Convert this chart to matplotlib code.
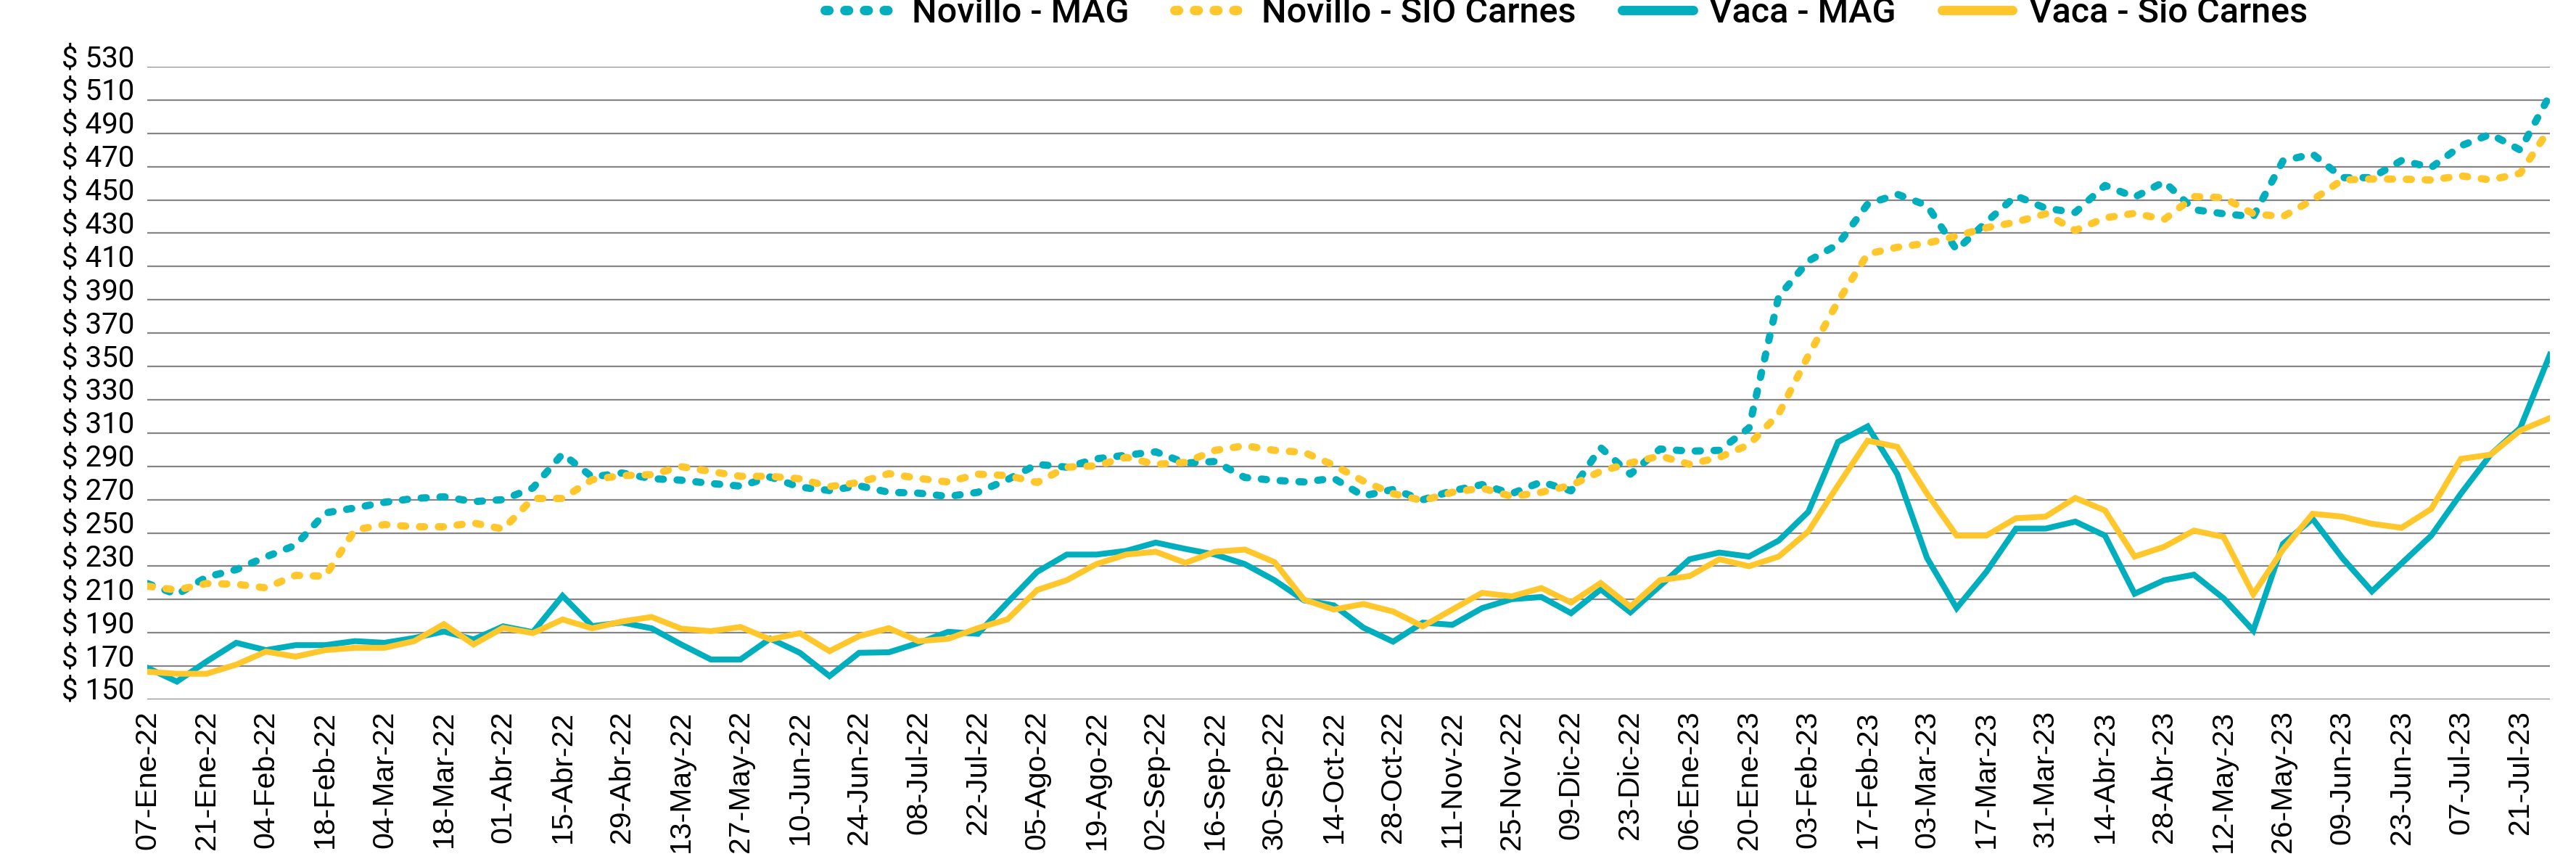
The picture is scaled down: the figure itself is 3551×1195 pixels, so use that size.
import matplotlib
matplotlib.use("Agg")
import matplotlib.pyplot as plt
from matplotlib.lines import Line2D
import numpy as np

# weekly prices, 07-Ene-22 .. 28-Jul-23
novillo_mag = [
    219.6, 213.0, 223.5, 228.0, 235.6, 242.6, 262.0, 265.0, 268.4, 270.7,
    271.7, 268.8, 270.0, 277.0, 297.5, 283.6, 286.0, 282.6, 281.7, 279.7,
    278.1, 283.6, 277.5, 275.5, 278.3, 274.4, 273.9, 271.9, 274.4, 282.0,
    291.2, 289.5, 294.5, 296.7, 298.7, 292.0, 292.9, 283.3, 281.6, 280.6,
    282.8, 272.2, 276.1, 269.9, 275.3, 279.0, 273.6, 280.6, 275.3, 301.2,
    285.3, 300.4, 299.1, 299.6, 313.0, 392.0, 413.3, 423.3, 447.5, 453.4,
    446.7, 420.0, 436.7, 452.5, 445.0, 442.5, 458.7, 451.7, 460.9, 444.2,
    441.7, 440.0, 473.4, 477.6, 463.4, 463.4, 473.7, 469.5, 482.5, 489.5,
    480.0, 513.0,
]
novillo_sio = [
    218.0, 215.7, 219.6, 219.2, 217.0, 224.5, 224.0, 251.8, 255.0, 253.7,
    253.7, 256.0, 252.3, 270.7, 270.7, 282.0, 284.4, 285.0, 289.8, 286.9,
    284.0, 284.0, 282.5, 277.8, 280.3, 285.6, 282.8, 280.6, 285.3, 284.5,
    280.3, 289.5, 290.3, 295.4, 291.2, 292.4, 299.6, 302.4, 299.6, 298.4,
    290.7, 281.1, 273.6, 269.4, 274.4, 276.9, 271.9, 274.4, 278.6, 287.0,
    292.0, 296.2, 291.2, 295.4, 303.0, 321.5, 356.5, 389.0, 417.5, 421.6,
    424.0, 428.3, 433.3, 436.7, 441.7, 431.7, 439.2, 442.0, 438.3, 452.0,
    451.4, 441.7, 440.0, 450.0, 462.0, 462.6, 462.5, 462.0, 464.5, 462.0,
    466.0, 493.0,
]
vaca_mag = [
    169.0, 160.7, 172.8, 184.0, 179.6, 182.6, 182.6, 185.0, 184.0, 186.9,
    190.8, 186.0, 193.9, 190.4, 212.2, 194.0, 196.2, 192.7, 183.0, 174.0,
    174.0, 186.5, 178.0, 164.0, 178.0, 178.3, 183.9, 190.6, 189.4, 208.2,
    226.6, 237.0, 237.0, 239.2, 244.2, 240.4, 237.0, 231.3, 221.6, 209.5,
    206.5, 193.1, 184.7, 196.1, 194.8, 204.8, 210.2, 211.5, 201.8, 216.1,
    202.3, 218.2, 234.2, 238.2, 235.8, 245.4, 262.7, 304.6, 314.0, 285.3,
    235.0, 204.8, 226.6, 252.6, 252.6, 256.8, 248.4, 213.5, 221.6, 224.9,
    210.7, 191.4, 243.4, 258.5, 235.0, 214.9, 231.7, 248.4, 273.6, 297.0,
    313.0, 357.0,
]
vaca_sio = [
    166.6, 165.4, 165.4, 170.9, 178.7, 175.7, 179.6, 181.0, 181.0, 185.0,
    195.2, 183.0, 193.0, 189.8, 198.0, 192.7, 196.8, 199.5, 192.5, 191.0,
    193.5, 186.0, 189.8, 179.0, 188.0, 192.8, 185.0, 186.4, 192.8, 198.1,
    215.7, 221.6, 231.3, 237.0, 238.7, 232.0, 238.7, 240.0, 232.5, 209.9,
    204.0, 207.3, 202.8, 193.9, 204.0, 214.0, 211.9, 216.9, 208.2, 219.9,
    205.7, 221.6, 224.1, 234.2, 230.0, 235.8, 250.9, 278.6, 305.4, 301.7,
    273.6, 248.4, 248.4, 258.8, 259.8, 271.0, 263.5, 235.8, 241.7, 251.4,
    247.6, 213.2, 240.0, 261.5, 259.8, 255.5, 253.1, 264.4, 294.5, 297.0,
    311.5, 319.0,
]

# one label every second week
tick_labels = [
    "07-Ene-22", "21-Ene-22", "04-Feb-22", "18-Feb-22", "04-Mar-22", "18-Mar-22",
    "01-Abr-22", "15-Abr-22", "29-Abr-22", "13-May-22", "27-May-22", "10-Jun-22",
    "24-Jun-22", "08-Jul-22", "22-Jul-22", "05-Ago-22", "19-Ago-22", "02-Sep-22",
    "16-Sep-22", "30-Sep-22", "14-Oct-22", "28-Oct-22", "11-Nov-22", "25-Nov-22",
    "09-Dic-22", "23-Dic-22", "06-Ene-23", "20-Ene-23", "03-Feb-23", "17-Feb-23",
    "03-Mar-23", "17-Mar-23", "31-Mar-23", "14-Abr-23", "28-Abr-23", "12-May-23",
    "26-May-23", "09-Jun-23", "23-Jun-23", "07-Jul-23", "21-Jul-23",
]
y_ticks = list(range(150, 531, 20))

TEAL = "#00AEBD"
YELLOW = "#FFC72C"
DOT = (0.7, 1.9)

x = np.arange(len(novillo_mag))

fig = plt.figure(figsize=(35.51, 11.95), dpi=100)
ax = fig.add_axes([0.05717, 0.19331, 0.93269, 0.7297])

ax.plot(x, novillo_mag, color=TEAL, lw=7.2, dashes=DOT, dash_capstyle="round")
ax.plot(x, novillo_sio, color=YELLOW, lw=7.2, dashes=DOT, dash_capstyle="round")
ax.plot(x, vaca_mag, color=TEAL, lw=5.8, solid_joinstyle="miter")
ax.plot(x, vaca_sio, color=YELLOW, lw=5.8, solid_joinstyle="miter")

ax.set_xlim(0, len(x) - 1)
ax.set_ylim(150, 530)
ax.set_yticks(y_ticks)
ax.set_yticklabels([f"$ {v}" for v in y_ticks], fontfamily=["Roboto", "DejaVu Sans"], fontsize=29)
for t in ax.get_yticklabels():
    t.set_verticalalignment("baseline")
ax.set_xticks(x[::2])
ax.set_xticklabels(tick_labels, rotation=90, fontfamily=["Liberation Sans", "DejaVu Sans"],
                   fontsize=29.5)

ax.tick_params(axis="y", length=0, pad=13)
ax.tick_params(axis="x", length=0, pad=11)
ax.yaxis.grid(True, color="#858585", lw=1.6)
ax.set_axisbelow(True)
for s in ax.spines.values():
    s.set_visible(False)

handles = [
    Line2D([], [], color=TEAL, lw=9.3, dashes=(0.4, 1.7), dash_capstyle="round"),
    Line2D([], [], color=YELLOW, lw=9.3, dashes=(0.4, 1.7), dash_capstyle="round"),
    Line2D([], [], color=TEAL, lw=9.3, solid_capstyle="round"),
    Line2D([], [], color=YELLOW, lw=9.3, solid_capstyle="round"),
]
names = ["Novillo - MAG", "Novillo - SIO Carnes", "Vaca - MAG", "Vaca - Sio Carnes"]
fig.legend(handles, names, loc="center", bbox_to_anchor=(0.608, 0.985), ncol=4,
           frameon=False, handlelength=2.0, handletextpad=0.47, columnspacing=1.3,
           prop={"family": ["Roboto", "DejaVu Sans"], "size": 35, "weight": "medium"})

fig.savefig("out.png", dpi=100)
plt.close(fig)
